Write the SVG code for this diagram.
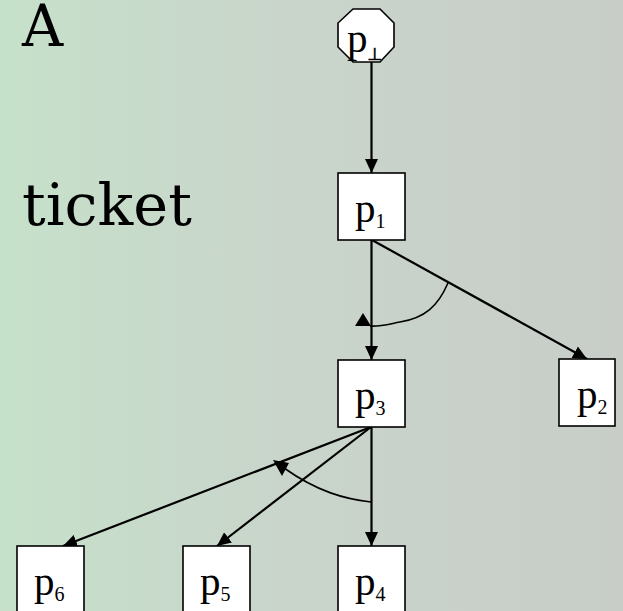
<svg xmlns="http://www.w3.org/2000/svg" width="623" height="611" viewBox="0 0 623 611">
<defs>
<linearGradient id="bg" x1="0" y1="0" x2="1" y2="0">
<stop offset="0" stop-color="#c6e1ca"/>
<stop offset="0.45" stop-color="#c9d5cb"/>
<stop offset="1" stop-color="#c8cdc8"/>
</linearGradient>
<marker id="ah" viewBox="0 0 14 13" refX="14" refY="6.5" markerWidth="14" markerHeight="13" markerUnits="userSpaceOnUse" orient="auto">
<path d="M0,0 L14,6.5 L0,13 z" fill="#000"/>
</marker>
<style>
.box{fill:#fff;stroke:#000;stroke-width:1.6}
.lbl{font-family:"Liberation Serif","Times New Roman",serif;font-size:41px;fill:#000}
.sub{font-size:20px}
.perp{font-family:"DejaVu Sans",sans-serif;font-size:17px;stroke:#000;stroke-width:0.6}
.edge{stroke:#000;stroke-width:2.2;fill:none;marker-end:url(#ah)}
.arc{stroke:#000;stroke-width:1.6;fill:none}
.big{font-family:"DejaVu Serif",serif;font-size:57px;fill:#000}
</style>
</defs>
<rect width="623" height="611" fill="url(#bg)"/>
<text class="big" x="22" y="46">A</text>
<text class="big" x="22" y="225" textLength="170" lengthAdjust="spacingAndGlyphs">ticket</text>
<g id="connectors">
<line class="edge" x1="371.5" y1="62" x2="371.5" y2="173"/>
<line class="edge" x1="371.5" y1="240" x2="371.5" y2="360"/>
<line class="edge" x1="372" y1="240" x2="587" y2="359"/>
<path class="arc" d="M448,283 C438,306 425,318 400,322 C385,325 378,327 370,326"/>
<polygon points="355,326 363,313 371,326" fill="#000"/>
<line class="edge" x1="371" y1="427" x2="63" y2="546"/>
<line class="edge" x1="371" y1="427" x2="217" y2="546"/>
<line class="edge" x1="371.5" y1="427" x2="371.5" y2="546"/>
<path class="arc" d="M371,502 C345,499 318,492 284,468"/>
<polygon points="273,460 289,463 282,476" fill="#000"/>
</g>
<g id="pbot">
<polygon class="box" points="353,9 380,9 394,23 394,47 380,62 353,62 338,47 338,23"/>
<text class="lbl" x="347" y="52">p<tspan class="perp" dy="8">⊥</tspan></text>
</g>
<g id="p1">
<rect class="box" x="338" y="173" width="67" height="67"/>
<text class="lbl" x="355" y="222">p<tspan class="sub" dy="6">1</tspan></text>
</g>
<g id="p3">
<rect class="box" x="338" y="360" width="67" height="67"/>
<text class="lbl" x="355" y="409">p<tspan class="sub" dy="6">3</tspan></text>
</g>
<g id="p2">
<rect class="box" x="559" y="359" width="56" height="67"/>
<text class="lbl" x="577" y="408">p<tspan class="sub" dy="6">2</tspan></text>
</g>
<g id="p6">
<rect class="box" x="17" y="546" width="67" height="70"/>
<text class="lbl" x="34" y="595">p<tspan class="sub" dy="6">6</tspan></text>
</g>
<g id="p5">
<rect class="box" x="183" y="546" width="67" height="70"/>
<text class="lbl" x="200" y="595">p<tspan class="sub" dy="6">5</tspan></text>
</g>
<g id="p4">
<rect class="box" x="338" y="546" width="67" height="70"/>
<text class="lbl" x="355" y="595">p<tspan class="sub" dy="6">4</tspan></text>
</g>
</svg>
